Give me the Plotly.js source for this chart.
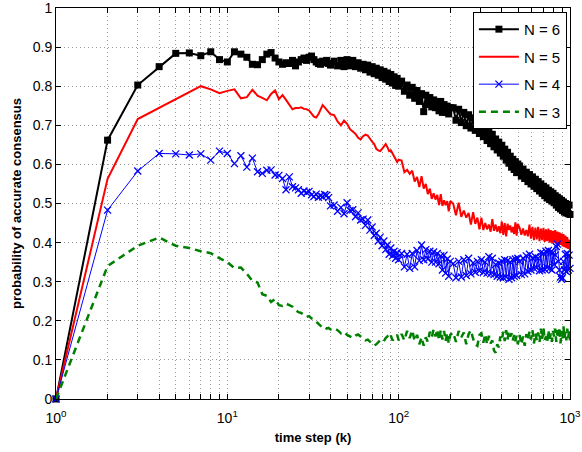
<!DOCTYPE html>
<html>
<head>
<meta charset="utf-8">
<script src="https://cdn.plot.ly/plotly-3.0.1.min.js"></script>
<style>
  html, body { margin: 0; padding: 0; background: #fff; }
  #chart { width: 582px; height: 452px; }
</style>
</head>
<body>
<div id="chart"></div>
<script>
// time steps sampled (k): every step to 40, then coarser sampling per range
const kSegments = [[1, 40, 1], [42, 100, 2], [104, 200, 4], [208, 496, 8], [508, 1000, 12]];
const timeStep = [];
kSegments.forEach(function (s) { for (let k = s[0]; k <= s[1]; k += s[2]) timeStep.push(k); });

// N = 6
const probN6 = [
  0, 0.662, 0.803, 0.850, 0.884, 0.885, 0.878, 0.888, 0.868, 0.862,
  0.888, 0.882, 0.874, 0.856, 0.855, 0.868, 0.882, 0.886, 0.872, 0.862,
  0.856, 0.860, 0.858, 0.866, 0.852, 0.862, 0.868, 0.872, 0.866, 0.874,
  0.877, 0.868, 0.862, 0.858, 0.856, 0.864, 0.860, 0.866, 0.858, 0.854,
  0.864, 0.852, 0.866, 0.850, 0.868, 0.852, 0.866, 0.850, 0.860, 0.846,
  0.856, 0.842, 0.854, 0.836, 0.850, 0.832, 0.846, 0.828, 0.842, 0.822,
  0.838, 0.818, 0.834, 0.812, 0.830, 0.808, 0.824, 0.802, 0.820, 0.800,
  0.813, 0.787, 0.803, 0.777, 0.797, 0.769, 0.789, 0.761, 0.781, 0.735,
  0.777, 0.753, 0.771, 0.747, 0.765, 0.745, 0.761, 0.737, 0.761, 0.733,
  0.753, 0.733, 0.749, 0.729, 0.745,
  0.745, 0.713, 0.741, 0.707, 0.733, 0.699, 0.727, 0.693, 0.719, 0.687,
  0.709, 0.679, 0.701, 0.671, 0.693, 0.661, 0.687, 0.653, 0.677, 0.645,
  0.665, 0.637, 0.657, 0.629, 0.649, 0.621, 0.639, 0.611, 0.631, 0.603,
  0.621, 0.593, 0.613, 0.587, 0.607, 0.579, 0.601,
  0.596, 0.570, 0.588, 0.564, 0.580, 0.556, 0.574, 0.550, 0.568, 0.544,
  0.562, 0.538, 0.556, 0.532, 0.550, 0.526, 0.544, 0.520, 0.540, 0.514,
  0.534, 0.510, 0.530, 0.506, 0.526, 0.502, 0.520, 0.496, 0.516, 0.490,
  0.512, 0.486, 0.508, 0.482, 0.504, 0.478, 0.500, 0.476, 0.498, 0.474,
  0.496, 0.472
];

// N = 5
const probN5 = [
  0, 0.563, 0.716, 0.745, 0.766, 0.785, 0.800, 0.792, 0.782, 0.788,
  0.792, 0.769, 0.772, 0.791, 0.776, 0.770, 0.764, 0.780, 0.789, 0.767,
  0.777, 0.765, 0.752, 0.741, 0.744, 0.744, 0.746, 0.742, 0.741, 0.738,
  0.730, 0.722, 0.720, 0.728, 0.740, 0.752, 0.746, 0.740, 0.732, 0.728,
  0.726, 0.710, 0.700, 0.712, 0.704, 0.690, 0.684, 0.678, 0.668, 0.664,
  0.672, 0.676, 0.674, 0.664, 0.658, 0.652, 0.640, 0.636, 0.634, 0.640,
  0.646, 0.652, 0.644, 0.634, 0.636, 0.628, 0.622, 0.614, 0.606, 0.612,
  0.610, 0.580, 0.586, 0.576, 0.584, 0.556, 0.568, 0.542, 0.570, 0.538,
  0.550, 0.524, 0.538, 0.512, 0.526, 0.510, 0.522, 0.496, 0.524, 0.494,
  0.508, 0.496, 0.506, 0.480, 0.506,
  0.500, 0.470, 0.502, 0.466, 0.482, 0.464, 0.476, 0.446, 0.478, 0.448,
  0.464, 0.434, 0.464, 0.432, 0.450, 0.434, 0.446, 0.428, 0.460, 0.430,
  0.446, 0.428, 0.442, 0.424, 0.454, 0.420, 0.450, 0.416, 0.448, 0.432,
  0.444, 0.426, 0.440, 0.422, 0.452, 0.418, 0.448,
  0.438, 0.420, 0.436, 0.418, 0.432, 0.416, 0.446, 0.410, 0.440, 0.406,
  0.438, 0.408, 0.440, 0.404, 0.436, 0.406, 0.438, 0.402, 0.434, 0.404,
  0.436, 0.400, 0.432, 0.398, 0.430, 0.400, 0.432, 0.396, 0.428, 0.392,
  0.426, 0.394, 0.424, 0.390, 0.422, 0.388, 0.418, 0.386, 0.414, 0.384,
  0.408, 0.380
];

// N = 4
const probN4 = [
  0, 0.483, 0.583, 0.628, 0.627, 0.624, 0.627, 0.611, 0.634, 0.628,
  0.602, 0.622, 0.593, 0.616, 0.581, 0.577, 0.585, 0.586, 0.573, 0.572,
  0.564, 0.535, 0.568, 0.543, 0.540, 0.535, 0.526, 0.532, 0.528, 0.531,
  0.522, 0.518, 0.524, 0.516, 0.520, 0.517, 0.523, 0.521, 0.515, 0.494,
  0.496, 0.480, 0.490, 0.474, 0.502, 0.482, 0.484, 0.466, 0.476, 0.458,
  0.460, 0.444, 0.458, 0.432, 0.440, 0.418, 0.424, 0.404, 0.414, 0.392,
  0.404, 0.382, 0.394, 0.370, 0.386, 0.366, 0.378, 0.360, 0.374, 0.356,
  0.372, 0.338, 0.370, 0.334, 0.372, 0.338, 0.380, 0.354, 0.394, 0.356,
  0.382, 0.358, 0.378, 0.350, 0.376, 0.350, 0.372, 0.346, 0.366, 0.330,
  0.368, 0.322, 0.358, 0.314, 0.352,
  0.346, 0.310, 0.352, 0.312, 0.356, 0.316, 0.360, 0.320, 0.348, 0.324,
  0.352, 0.328, 0.356, 0.324, 0.350, 0.322, 0.364, 0.320, 0.360, 0.318,
  0.344, 0.314, 0.348, 0.312, 0.352, 0.310, 0.356, 0.312, 0.354, 0.306,
  0.350, 0.310, 0.356, 0.314, 0.358, 0.316, 0.360,
  0.352, 0.318, 0.360, 0.320, 0.366, 0.326, 0.370, 0.330, 0.360, 0.334,
  0.364, 0.336, 0.360, 0.328, 0.374, 0.330, 0.372, 0.332, 0.378, 0.336,
  0.380, 0.334, 0.376, 0.330, 0.374, 0.344, 0.368, 0.390, 0.396, 0.352,
  0.330, 0.312, 0.306, 0.310, 0.352, 0.330, 0.370, 0.326, 0.372, 0.330,
  0.368, 0.334
];

// N = 3
const probN3 = [
  0, 0.340, 0.392, 0.413, 0.392, 0.386, 0.378, 0.373, 0.360, 0.350,
  0.335, 0.336, 0.320, 0.302, 0.298, 0.268, 0.264, 0.248, 0.256, 0.240,
  0.238, 0.244, 0.240, 0.236, 0.228, 0.222, 0.220, 0.214, 0.210, 0.212,
  0.206, 0.204, 0.198, 0.192, 0.186, 0.182, 0.184, 0.180, 0.182, 0.178,
  0.181, 0.176, 0.168, 0.172, 0.164, 0.160, 0.156, 0.162, 0.165, 0.160,
  0.154, 0.150, 0.152, 0.146, 0.142, 0.137, 0.140, 0.146, 0.150, 0.152,
  0.148, 0.156, 0.160, 0.154, 0.162, 0.150, 0.154, 0.158, 0.164, 0.150,
  0.166, 0.150, 0.174, 0.156, 0.176, 0.148, 0.164, 0.140, 0.158, 0.136,
  0.158, 0.146, 0.172, 0.158, 0.178, 0.160, 0.178, 0.150, 0.176, 0.152,
  0.174, 0.148, 0.170, 0.142, 0.164,
  0.170, 0.146, 0.174, 0.158, 0.170, 0.140, 0.166, 0.176, 0.154, 0.140,
  0.136, 0.164, 0.168, 0.144, 0.166, 0.140, 0.162, 0.142, 0.150, 0.124,
  0.118, 0.140, 0.132, 0.160, 0.150, 0.172, 0.148, 0.176, 0.152, 0.174,
  0.160, 0.168, 0.150, 0.164, 0.148, 0.162, 0.140,
  0.164, 0.140, 0.160, 0.136, 0.166, 0.150, 0.172, 0.152, 0.176, 0.142,
  0.168, 0.150, 0.170, 0.146, 0.180, 0.154, 0.182, 0.150, 0.160, 0.144,
  0.176, 0.148, 0.168, 0.146, 0.174, 0.158, 0.180, 0.146, 0.176, 0.160,
  0.184, 0.142, 0.174, 0.152, 0.186, 0.156, 0.172, 0.150, 0.180, 0.156,
  0.176, 0.150
];

const seriesNames = ['N = 6', 'N = 5', 'N = 4', 'N = 3'];
const decadeValues = [1, 10, 100, 1000];
const decadeLabels = ['10<sup>0</sup>', '10<sup>1</sup>', '10<sup>2</sup>', '10<sup>3</sup>'];
const minorDigits = [2, 3, 4, 5, 6, 7, 8, 9];
const yTickVals = [0, 0.1, 0.2, 0.3, 0.4, 0.5, 0.6, 0.7, 0.8, 0.9, 1];
const yTickText = ['0', '0.1', '0.2', '0.3', '0.4', '0.5', '0.6', '0.7', '0.8', '0.9', '1'];

// tick positions (decades + minor digits), label only on decades
const xTickVals = [], xTickText = [];
decadeValues.forEach(function (d, i) {
  xTickVals.push(d); xTickText.push(decadeLabels[i]);
  if (d < 1000) minorDigits.forEach(function (m) { xTickVals.push(d * m); xTickText.push(''); });
});

const FONT = 'Liberation Sans, Arial, Helvetica, sans-serif';

const traces = [
  { x: timeStep, y: probN6, name: seriesNames[0], type: 'scatter', mode: 'lines+markers',
    line: { color: '#000000', width: 2 },
    marker: { symbol: 'square', size: 7, color: '#000000' }, cliponaxis: false,
    legendgroup: 'a' },
  { x: timeStep, y: probN5, name: seriesNames[1], type: 'scatter', mode: 'lines',
    line: { color: '#ff0000', width: 2 }, cliponaxis: false, legendgroup: 'b' },
  { x: timeStep, y: probN4, name: seriesNames[2], type: 'scatter', mode: 'lines+markers',
    line: { color: '#0000ff', width: 1 },
    marker: { symbol: 'x-thin', size: 7, color: '#0000ff', line: { color: '#0000ff', width: 1.3 } },
    cliponaxis: false, legendgroup: 'c' },
  { x: timeStep, y: probN3, name: seriesNames[3], type: 'scatter', mode: 'lines',
    line: { color: '#008000', width: 2.5, dash: '7px,5px' }, cliponaxis: false, legendgroup: 'd' }
];

const axisCommon = {
  showline: true, linecolor: '#000', linewidth: 1, mirror: 'ticks',
  ticks: 'inside', ticklen: 5, tickcolor: '#000', tickwidth: 1,
  showgrid: true, gridcolor: '#9a9a9a', gridwidth: 1, griddash: '1px,3px',
  zeroline: false, ticklabeloverflow: 'allow',
  tickfont: { family: FONT, size: 14, color: '#000' }
};

const layout = {
  width: 582, height: 452,
  margin: { l: 56, r: 12, t: 8, b: 53 },
  paper_bgcolor: '#fff', plot_bgcolor: '#fff',
  showlegend: true,
  xaxis: Object.assign({}, axisCommon, {
    type: 'log', range: [0, 3], tickmode: 'array', tickvals: xTickVals, ticktext: xTickText,
    ticklabelstandoff: 6,
    title: { text: 'time step (k)', font: { family: FONT, size: 13, color: '#000', weight: 'bold' }, standoff: 8 }
  }),
  yaxis: Object.assign({}, axisCommon, {
    range: [0, 1], tickmode: 'array', tickvals: yTickVals, ticktext: yTickText,
    title: { text: 'probability of accurate consensus', font: { family: FONT, size: 13, color: '#000', weight: 'bold' }, standoff: 8 }
  }),
  legend: {
    x: 0.994, y: 0.99, xanchor: 'right', yanchor: 'top',
    bgcolor: '#fff', bordercolor: '#000', borderwidth: 1,
    font: { family: FONT, size: 15, color: '#000' },
    traceorder: 'grouped', tracegroupgap: 5, itemwidth: 40
  }
};

Plotly.newPlot('chart', traces, layout, { displayModeBar: false, staticPlot: true });
</script>
</body>
</html>
